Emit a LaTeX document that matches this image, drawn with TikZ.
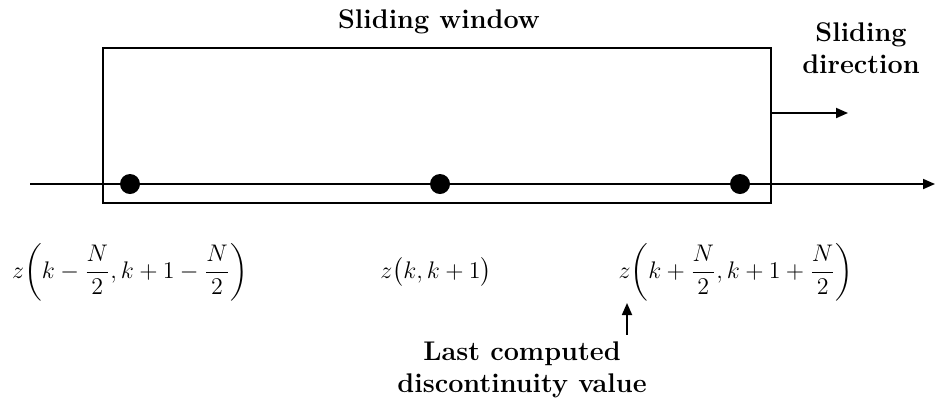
\documentclass[tikz,border=0pt]{standalone}
\usepackage{amsmath}
\usetikzlibrary{arrows.meta}
\tikzset{
  win/line/.style={black, line width=0.9pt},
  win/tip/.style={-{Triangle[length=6pt,width=5pt]}},
  win/dot/.style={circle, fill, inner sep=0pt, minimum size=10pt},
  win/label/.style={font=\fontsize{13.5}{16}\selectfont\bfseries, align=center},
  win/math/.style={font=\fontsize{12.5}{15}\selectfont}
}

\begin{document}
\begin{tikzpicture}[x=0.5pt, y=-0.5pt]
  \useasboundingbox (0,0) rectangle (935,398);
  \node[win/line, draw, anchor=north west, minimum width=334pt, minimum height=77.5pt, inner sep=0pt] (frame) at (102,47) {};
  \coordinate (axL) at (30,184);
  \coordinate (axR) at (935,184);
  \draw[win/line, win/tip] (axL) -- (axR);
  \foreach \x/\n in {130/a,440/b,740/c} \node[win/dot] (dot\n) at (\x,184) {};
  \coordinate (dirR) at (848,113);
  \draw[win/line, win/tip] (frame.east |- dirR) -- (dirR);

  \node[win/label] (title) at (439,22) {Sliding window};
  \node[win/label] (dir) at (861,48) {Sliding\\direction};

  \node[win/math] (zL) at (130,272) {$z\biggl(k-\dfrac{N}{2},k+1-\dfrac{N}{2}\biggr)$};
  \node[win/math] (zM) at (436,272) {$z\bigl(k,k+1\bigr)$};
  \node[win/math] (zR) at (736,272) {$z\biggl(k+\dfrac{N}{2},k+1+\dfrac{N}{2}\biggr)$};

  \node[win/label] (last) at (522,370) {Last computed\\discontinuity value};
  \coordinate (ztip) at (627,303);
  \draw[win/line, win/tip] (ztip |- last.north) -- (ztip);
\end{tikzpicture}
\end{document}
